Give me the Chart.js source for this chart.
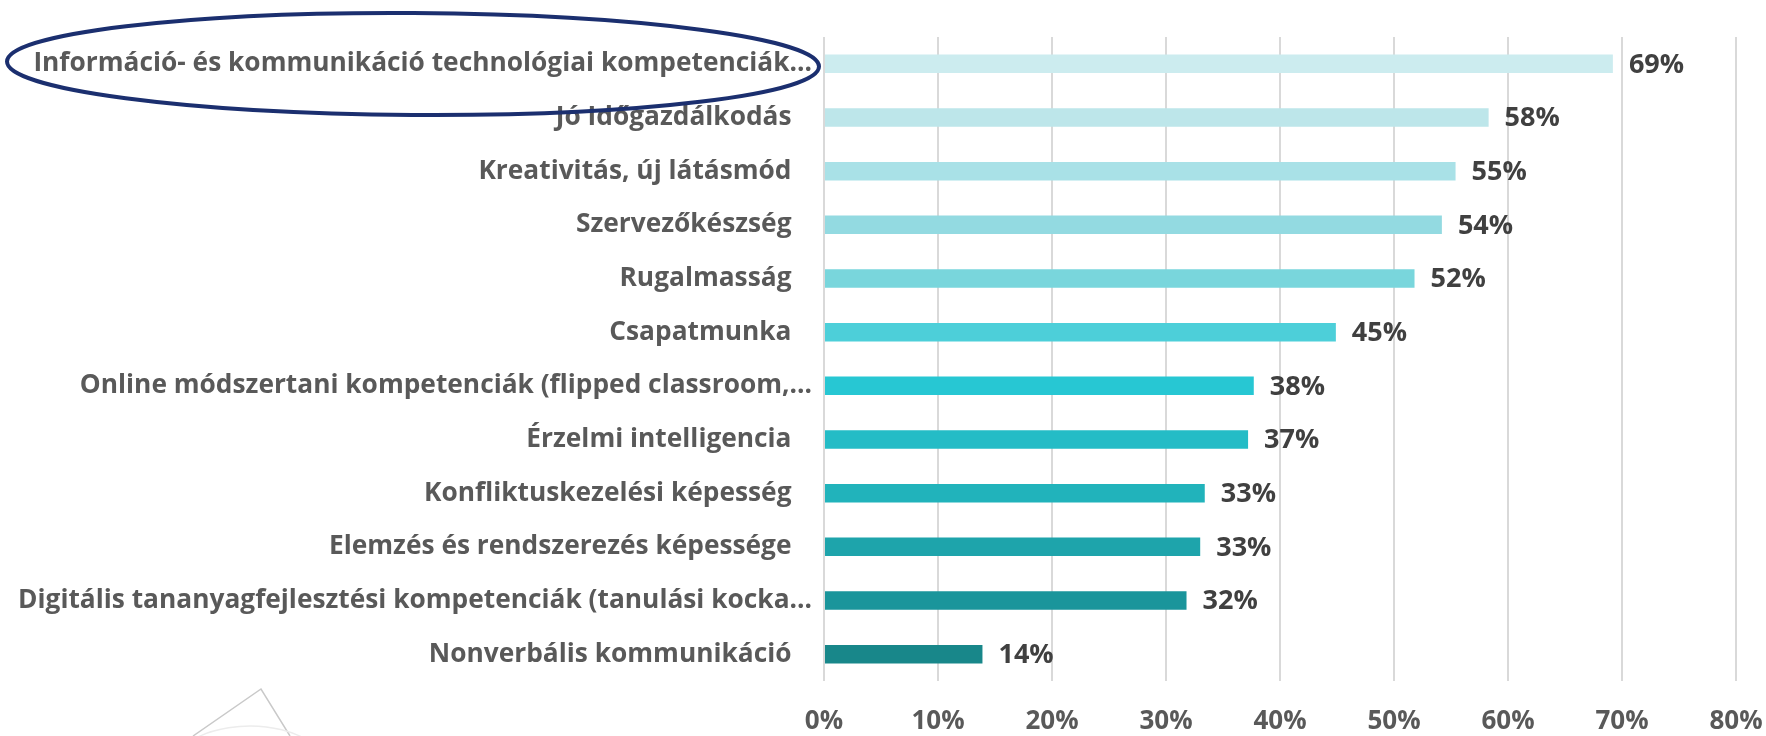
<!DOCTYPE html>
<html>
<head>
<meta charset="utf-8">
<script src="https://cdn.jsdelivr.net/npm/chart.js@4"></script>
<style>
  html, body { margin: 0; padding: 0; background: #fff; }
  #wrap { width: 1766px; height: 736px; }
</style>
</head>
<body>
<div id="wrap"><canvas id="skillsChart" width="1766" height="736"></canvas></div>
<script>
// Chart data
const categories = [
  "Információ- és kommunikáció technológiai kompetenciák…",
  "Jó Időgazdálkodás   ",
  "Kreativitás, új látásmód   ",
  "Szervezőkészség   ",
  "Rugalmasság   ",
  "Csapatmunka   ",
  "Online módszertani kompetenciák (flipped classroom,…",
  "Érzelmi intelligencia   ",
  "Konfliktuskezelési képesség   ",
  "Elemzés és rendszerezés képessége   ",
  "Digitális tananyagfejlesztési kompetenciák (tanulási kocka…",
  "Nonverbális kommunikáció   "
];
const shares = [69.2, 58.3, 55.4, 54.2, 51.8, 44.9, 37.7, 37.2, 33.4, 33.0, 31.8, 13.9];
const barColors = [
  "#CCECEF", "#BDE6EA", "#A9E1E7", "#93DAE1", "#79D6DC", "#4DCFD9",
  "#27C7D3", "#24BCC6", "#21B3BB", "#1EA4AB", "#1A959B", "#18878A"
];
const xTicks = [0, 10, 20, 30, 40, 50, 60, 70, 80];

const FONT = "'Open Sans', 'Noto Sans', sans-serif";

// value labels at the end of each bar
const valueLabels = {
  id: "valueLabels",
  afterDatasetsDraw(chart) {
    const ctx = chart.ctx;
    const meta = chart.getDatasetMeta(0);
    ctx.save();
    ctx.font = "bold 27px " + FONT;
    ctx.fillStyle = "#404040";
    ctx.textAlign = "left";
    ctx.textBaseline = "middle";
    meta.data.forEach((bar, i) => {
      ctx.fillText(Math.round(shares[i]) + "%", bar.x + 16, bar.y + 1);
    });
    ctx.restore();
  }
};

// hand-drawn highlight ellipse round the first label + faint logo lines
const overlay = {
  id: "overlay",
  afterDraw(chart) {
    const ctx = chart.ctx;
    ctx.save();
    ctx.strokeStyle = "#1b2f6f";
    ctx.lineWidth = 4;
    ctx.beginPath();
    ctx.ellipse(413, 64, 406, 51, 0.006, 0, Math.PI * 2);
    ctx.stroke();

    ctx.strokeStyle = "#c9c9c9";
    ctx.lineWidth = 1.5;
    ctx.beginPath();
    ctx.moveTo(193, 736);
    ctx.lineTo(261, 689);
    ctx.lineTo(290, 736);
    ctx.stroke();
    ctx.strokeStyle = "#ececec";
    ctx.beginPath();
    ctx.ellipse(250, 760, 70, 34, 0, Math.PI * 1.15, Math.PI * 1.85);
    ctx.stroke();
    ctx.restore();
  }
};

new Chart(document.getElementById("skillsChart"), {
  type: "bar",
  data: {
    labels: categories,
    datasets: [{
      data: shares,
      backgroundColor: barColors,
      borderWidth: 0,
      categoryPercentage: 1,
      barPercentage: 0.345
    }]
  },
  options: {
    indexAxis: "y",
    responsive: false,
    animation: false,
    devicePixelRatio: 1,
    layout: { padding: { top: 37, right: 30, left: 0, bottom: 0 } },
    plugins: { legend: { display: false }, tooltip: { enabled: false } },
    scales: {
      x: {
        min: 0,
        max: 80,
        afterBuildTicks: (scale) => { scale.ticks = xTicks.map(v => ({ value: v })); },
        afterFit: (scale) => {
          scale.height = 55;
          scale.paddingLeft = 0;
          scale.paddingRight = 0;
        },
        ticks: {
          callback: (v) => v + "%",
          color: "#595959",
          font: { family: FONT, size: 26, weight: "bold" },
          padding: 25
        },
        grid: { color: "#d9d9d9", lineWidth: 2, drawTicks: false },
        border: { display: false }
      },
      y: {
        afterFit: (scale) => { scale.width = 824; },
        ticks: {
          color: "#595959",
          font: { family: FONT, size: 26.3, weight: "bold" },
          padding: 4,
          autoSkip: false
        },
        grid: { display: false },
        border: { display: false }
      }
    }
  },
  plugins: [valueLabels, overlay]
});
</script>
</body>
</html>
